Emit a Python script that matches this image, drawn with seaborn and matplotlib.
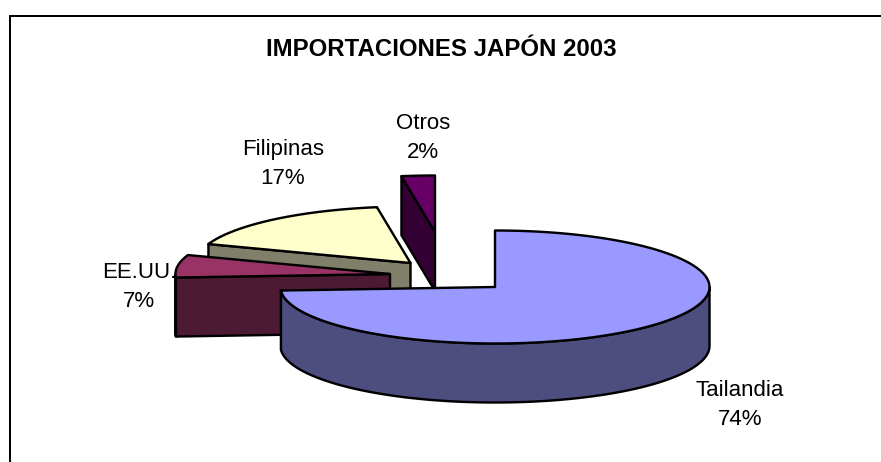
import numpy as np
import matplotlib
matplotlib.use("Agg")
import matplotlib.pyplot as plt
import seaborn as sns

# Import shares by origin, in percent, listed clockwise from twelve o'clock
countries = ["Tailandia", "EE.UU.", "Filipinas", "Otros"]
shares = [74, 7, 17, 2]
chart_title = "IMPORTACIONES JAPÓN 2003"

# Colours for the top surface and the shaded side of each slice
top_colors = ["#9999FF", "#993366", "#FFFFCC", "#660066"]
side_colors = ["#4D4D80", "#4D1A33", "#80806A", "#330033"]

# Layout of the tilted pie, in figure pixels
CENTER = (495.0, 287.0)
RX, RY = 214.5, 56.5
DEPTH = 59.0
EDGE_PX = 2.4
explode_px = [(0, 0), (-105, -13), (-84.5, -24), (-60, -55)]
# Slight angular correction of each slice boundary for the tilted projection (degrees)
boundary_tilt = [0, 0, -2.0, -1.8, 0]
label_xy = [(740, 405), (139, 287), (283, 164), (423, 138)]
draw_order = [3, 2, 1, 0]

sns.set_theme(style="white")
plt.rcParams["font.family"] = ["Liberation Sans", "DejaVu Sans"]

fig = plt.figure(figsize=(8.81, 4.62), dpi=100, facecolor="white")
ax = fig.add_axes([0, 0, 1, 1])
ax.set_xlim(0, 881)
ax.set_ylim(462, 0)
ax.axis("off")
lw = EDGE_PX * 72 / fig.dpi

# Only the top and left borders of the chart area fall inside the canvas
ax.plot([9.5, 9.5, 881], [462, 15.5, 15.5], color="black", lw=2 * 72 / fig.dpi,
        solid_joinstyle="miter")


def rim_point(theta, cx, cy):
    """Point on the pie rim; theta runs clockwise in degrees from the top."""
    t = np.radians(theta)
    return cx + RX * np.sin(t), cy - RY * np.cos(t)


def draw_face(xs, ys, color, z):
    ax.fill(xs, ys, facecolor=color, edgecolor="black", lw=lw, joinstyle="round", zorder=z)


edges = np.concatenate([[0], np.cumsum(shares)]) * 3.6 + np.array(boundary_tilt)

for z, i in enumerate(draw_order):
    start, end = edges[i], edges[i + 1]
    cx, cy = CENTER[0] + explode_px[i][0], CENTER[1] + explode_px[i][1]
    base = z * 10 + 2

    # Flat cut faces from hub to rim, only those turned towards the viewer
    visible_cuts = [a for a, sign in ((start, -1), (end, 1))
                    if sign * np.sin(np.radians(a)) > 1e-9]
    for a in visible_cuts:
        ox, oy = rim_point(a, cx, cy)
        draw_face([cx, ox, ox, cx], [cy, oy, oy + DEPTH, cy + DEPTH], side_colors[i], base)

    # Curved outer wall, only where it faces the viewer
    lo, hi = max(start, 90.0), min(end, 270.0)
    if hi > lo:
        th = np.linspace(lo, hi, 160)
        xt, yt = rim_point(th, cx, cy)
        draw_face(np.r_[xt, xt[::-1]], np.r_[yt, yt[::-1] + DEPTH], side_colors[i], base + 1)

    # Top surface
    th = np.linspace(start, end, 240)
    xt, yt = rim_point(th, cx, cy)
    draw_face(np.r_[cx, xt], np.r_[cy, yt], top_colors[i], base + 2)

for name, value, (lx, ly) in zip(countries, shares, label_xy):
    ax.text(lx, ly, f"{name}\n{value}%", ha="center", va="center", fontsize=16,
            color="black", linespacing=1.5, zorder=100)

ax.text(441, 50, chart_title, ha="center", va="center", fontsize=17.3,
        fontweight="bold", color="black", zorder=100)

fig.savefig("out.png", dpi=100, facecolor="white")
